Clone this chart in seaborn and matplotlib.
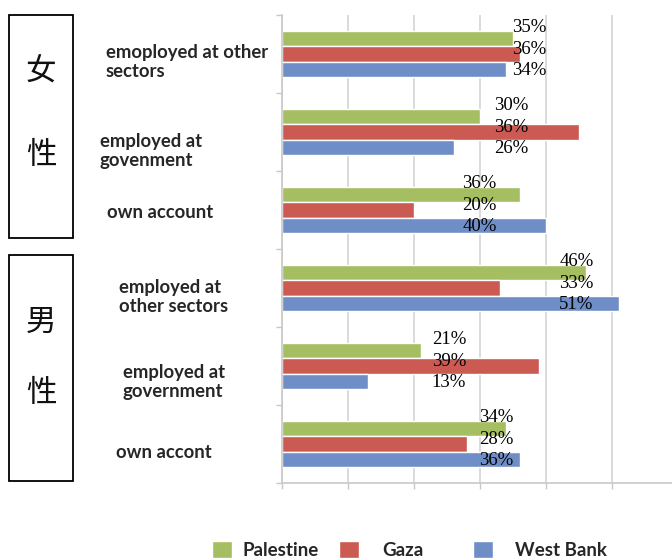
import matplotlib
matplotlib.use("Agg")
import matplotlib.pyplot as plt
from matplotlib.patches import Rectangle
import seaborn as sns
import pandas as pd

# ---- data ----
categories = ["emoployed at other sectors", "employed at govenment", "own account",
              "employed at other sectors", "employed at government", "own accont"]
cat_display = ["emoployed at other\nsectors", "employed at\ngovenment", "own account",
               "employed at\nother sectors", "employed at\ngovernment", "own accont"]
series = ["Palestine", "Gaza", "West Bank"]
palestine = [35, 30, 36, 46, 21, 34]
gaza = [36, 45, 20, 33, 39, 28]          # bar lengths as drawn
west_bank = [34, 26, 40, 51, 13, 36]
palestine_lbl = ["35%", "30%", "36%", "46%", "21%", "34%"]
gaza_lbl = ["36%", "36%", "20%", "33%", "39%", "28%"]
west_bank_lbl = ["34%", "26%", "40%", "51%", "13%", "36%"]
groups = ["女\n\n性", "男\n\n性"]

colors = ["#A5BE62", "#CB5A52", "#6F8EC7"]

sns.set_theme(style="white")
plt.rcParams["font.family"] = ["Lato", "DejaVu Sans"]

W, H = 672, 558
fig = plt.figure(figsize=(W / 100, H / 100), dpi=100)
ax = fig.add_axes([282 / W, 1 - 483 / H, (W - 282) / W, (483 - 15) / H])

df = pd.DataFrame({
    "category": categories * 3,
    "value": palestine + gaza + west_bank,
    "series": [s for s in series for _ in categories],
})
sns.barplot(data=df, y="category", x="value", hue="series", order=categories,
            hue_order=series, palette=colors, orient="h", width=0.6, gap=0,
            saturation=1, ax=ax, legend=True)
handles, labs = ax.get_legend_handles_labels()
ax.legend_.remove()

ax.set_xlim(0, (W - 282) / 6.6)
ax.set_ylim(len(categories) - 0.5, -0.5)
ax.set_xlabel("")
ax.set_ylabel("")
ax.set_xticks([0, 10, 20, 30, 40, 50])
ax.set_xticklabels([])
ax.set_yticks([i - 0.5 for i in range(len(categories) + 1)])
ax.set_yticklabels([])
ax.tick_params(axis="x", bottom=True, length=4, width=1, color="#c8c8c8")
ax.tick_params(axis="y", left=True, length=4, width=1, color="#c8c8c8")
ax.grid(axis="x", color="#d4d4d4", linewidth=1.2)
ax.set_axisbelow(True)
for s in ["top", "right"]:
    ax.spines[s].set_visible(False)
for s in ["left", "bottom"]:
    ax.spines[s].set_color("#c8c8c8")
    ax.spines[s].set_linewidth(1.2)

# value labels
label_x = [34.8, 32.1, 27.3, 42.0, 22.7, 29.8]
offsets = [19.4, 3.6, -12.2]
for i in range(len(categories)):
    for lbl_list, off in zip([palestine_lbl, gaza_lbl, west_bank_lbl], offsets):
        ax.annotate(lbl_list[i], xy=(label_x[i], i), xytext=(0, off),
                    textcoords="offset points", ha="left", va="center",
                    fontsize=13.5, family="Liberation Serif", color="black")

# category labels
cat_pos = [(106, 62), (100, 151), (107, 213), (119, 297), (123, 382), (116, 453)]
for txt, (px, py) in zip(cat_display, cat_pos):
    fig.text(px / W, 1 - py / H, txt, ha="left", va="center", fontsize=13.3,
             fontweight="bold", color="#262626", linespacing=1.2)

# group boxes
box_spans = [(15, 238), (255, 481)]
for g, (y0, y1) in zip(groups, box_spans):
    fig.patches.append(Rectangle((9 / W, 1 - y1 / H), 64 / W, (y1 - y0) / H,
                                 transform=fig.transFigure, fill=False,
                                 edgecolor="black", linewidth=1.3))
char_pos = [(41, 72), (41, 155), (41, 322), (41, 393)]
chars = [c for g in groups for c in g.split("\n\n")]
for c, (px, py) in zip(chars, char_pos):
    fig.text(px / W, 1 - py / H, c, ha="center", va="center", fontsize=22,
             family=["Noto Sans CJK SC", "DejaVu Sans"], color="#111111",
             fontweight="light")

# legends
leg_x = [212, 339, 473]
leg_pad = [0.59, 1.28, 1.17]
for h, l, lx, pad in zip(handles, labs, leg_x, leg_pad):
    lg = fig.legend([h], [l], loc="center left", bbox_to_anchor=(lx / W, 1 - 550 / H),
                    bbox_transform=fig.transFigure, frameon=False, borderpad=0,
                    borderaxespad=0, handlelength=1.05, handleheight=1.0,
                    handletextpad=pad, prop={"family": "Lato", "weight": "bold", "size": 13.5})
    for t in lg.get_texts():
        t.set_color("#262626")

fig.savefig("out.png", dpi=100)
